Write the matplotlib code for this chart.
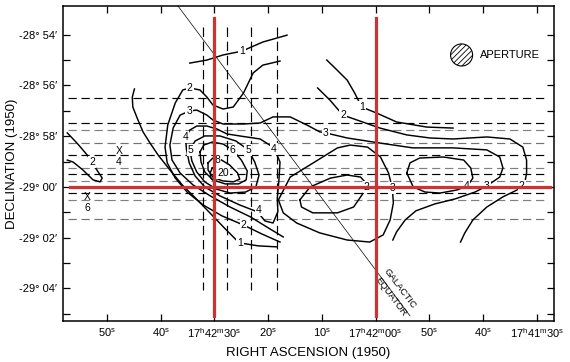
import matplotlib
matplotlib.use("Agg")
import matplotlib.pyplot as plt
from matplotlib.patches import Ellipse

# x: RA seconds after 17h41m00s (1950), y: Dec arcmin north of -29d00m (1950)

# contour level 1
c1_top_ra = [94.6, 91.4, 88.4, 84.9, 81.0, 76.5]
c1_top_dec = [4.88, 5.00, 5.20, 5.35, 5.71, 5.98]
c1_east_ra = [69.1, 67.2, 65.3, 63.9, 62.6, 59.8, 56.1, 50.5, 45.6]
c1_east_dec = [5.00, 4.61, 4.21, 3.70, 3.15, 2.91, 2.56, 2.36, 2.32]
c1_sw_ra = [104.9, 105.3, 105.2, 104.4, 103.3, 102.0, 100.5, 98.3, 96.0, 93.2,
            90.5, 88.0, 85.4, 81.9, 78.4]
c1_sw_dec = [3.86, 3.54, 3.15, 2.72, 2.17, 1.73, 1.26, 0.67, 0.08, -0.51,
             -1.10, -1.65, -2.20, -2.32, -2.36]

# contour level 2
c2_core_ra = [77.8, 81.0, 82.8, 84.6, 86.5, 88.4, 90.3, 91.4, 92.7, 94.6, 95.9,
              97.3, 98.7, 99.2, 98.8, 97.3, 95.1, 92.1, 88.6, 84.6, 81.2, 77.8]
c2_core_dec = [4.96, 4.80, 4.49, 3.70, 3.15, 3.07, 3.23, 3.54, 3.82, 3.90, 3.82,
               3.31, 2.44, 1.57, 0.95, 0.35, -0.20, -0.71, -1.14, -1.50, -1.85, -2.17]
c2_east_ra = [70.8, 68.5, 66.1, 63.5, 59.2, 54.2, 49.9, 45.6, 39.3, 35.0, 32.6,
              31.9, 31.9, 32.2, 32.8, 33.7, 36.3, 39.3, 41.9, 43.4, 44.2]
c2_east_dec = [3.90, 3.42, 2.83, 2.64, 2.32, 2.05, 1.93, 1.89, 1.97, 1.89, 1.57,
               1.06, 0.55, 0.20, 0.04, -0.12, -0.39, -0.79, -1.30, -1.81, -2.17]
c2_west_ra = [117.4, 116.5, 115.6, 114.5, 113.7, 112.8, 111.9, 110.9, 111.3,
              112.6, 114.5, 116.3, 117.4]
c2_west_dec = [2.13, 1.93, 1.73, 1.46, 1.26, 0.98, 0.67, 0.35, 0.20,
               0.28, 0.67, 0.98, 1.06]

# contour level 3
c3_ra = [77.2, 80.0, 83.3, 87.1, 90.8, 94.0, 96.4, 97.9, 98.3, 97.7, 96.4, 94.7,
         93.3, 91.4, 90.3, 88.4, 84.6, 81.5, 79.1, 75.9, 72.8, 70.4, 69.3, 65.3,
         59.2, 53.1, 45.6, 39.3, 36.9, 36.3, 36.9, 39.3, 41.5, 45.2, 49.0, 52.5,
         54.5, 56.1, 56.8]
c3_dec = [-1.97, -1.61, -1.18, -0.79, -0.35, 0.08, 0.55, 1.06, 1.65, 2.32, 2.83,
          2.99, 3.03, 2.83, 2.64, 2.48, 2.48, 2.52, 2.76, 2.76, 2.44, 2.17, 2.13,
          1.93, 1.73, 1.54, 1.54, 1.46, 1.18, 0.75, 0.39, 0.04, -0.20, -0.47,
          -0.67, -0.94, -1.30, -1.77, -2.09]

# closed contours round the peak
c4_ra = [95.4, 95.2, 94.7, 93.6, 91.8, 89.0, 85.3, 82.0, 80.6, 79.1, 78.2, 78.3,
         78.0, 77.8, 78.9, 81.5, 85.3, 87.7, 89.5, 91.4, 93.3, 94.6, 95.4]
c4_dec = [1.93, 1.46, 0.95, 0.43, 0.00, -0.35, -0.71, -0.98, -1.34, -1.42, -0.98,
          -0.43, 0.28, 0.98, 1.54, 1.89, 2.01, 2.09, 2.28, 2.40, 2.40, 2.24, 1.93]
c5_ra = [94.6, 93.6, 91.8, 89.0, 86.0, 83.7, 82.5, 81.7, 82.3, 84.2, 87.1, 89.7,
         91.8, 93.3, 94.2, 94.6]
c5_dec = [1.46, 1.81, 2.01, 2.01, 1.81, 1.46, 0.98, 0.47, 0.00, -0.20, -0.24,
          -0.08, 0.20, 0.59, 1.02, 1.46]
c6_ra = [92.7, 92.0, 90.4, 88.4, 86.6, 85.0, 83.9, 84.1, 85.5, 88.0, 90.3, 91.8,
         92.5, 92.7]
c6_dec = [1.38, 1.65, 1.77, 1.69, 1.46, 1.06, 0.63, 0.28, 0.12, 0.12, 0.28, 0.59,
          0.98, 1.38]
c8_ra = [91.2, 90.3, 89.0, 87.2, 85.7, 85.3, 86.5, 88.5, 90.3, 91.2, 91.2]
c8_dec = [0.95, 1.14, 1.10, 0.87, 0.55, 0.31, 0.20, 0.24, 0.39, 0.67, 0.95]
c20_ra = [90.4, 89.9, 89.5, 89.5, 90.1, 90.7, 90.8, 90.4]
c20_dec = [0.75, 0.79, 0.59, 0.35, 0.24, 0.35, 0.55, 0.75]

# secondary maxima east of the peak
mid_in_ra = [74.1, 72.2, 68.4, 65.3, 62.8, 61.5, 62.3, 64.1, 67.1, 71.7, 73.8, 74.1]
mid_in_dec = [-0.51, 0.00, 0.35, 0.47, 0.39, 0.08, -0.24, -0.79, -1.02, -1.02,
              -0.79, -0.51]
mid_out_ra = [78.1, 75.9, 71.6, 67.1, 64.7, 61.5, 59.1, 57.6, 56.9, 56.7, 57.3,
              58.6, 61.1, 65.3, 70.4, 74.7, 77.2, 78.1]
mid_out_dec = [-0.51, 0.39, 0.95, 1.54, 1.65, 1.57, 1.18, 0.55, -0.04, -0.63,
               -1.30, -1.89, -2.17, -2.09, -1.81, -1.42, -1.02, -0.51]
east_in_ra = [54.2, 53.6, 51.8, 47.4, 43.6, 42.3, 41.9, 42.9, 44.9, 48.0, 50.8,
              53.0, 54.2]
east_in_dec = [0.55, 0.95, 1.14, 1.18, 1.06, 0.75, 0.35, 0.04, -0.12, -0.24,
               -0.20, 0.00, 0.55]

# contour labels
label_text = ["1", "1", "1", "2", "2", "2", "2", "2", "2", "3", "3", "3", "3",
              "4", "4", "4", "4", "5", "5", "6", "8", "20"]
label_ra = [84.9, 62.5, 85.3, 94.6, 84.6, 66.0, 32.8, 112.8, 61.7, 94.7, 69.3,
            39.3, 56.9, 95.4, 78.9, 81.8, 43.1, 94.4, 83.7, 86.6, 89.5, 88.4]
label_dec = [5.35, 3.15, -2.20, 3.90, -1.50, 2.83, 0.04, 0.98, 0.00, 2.99, 2.13,
             0.04, -0.04, 1.97, 1.50, -0.91, 0.04, 1.46, 1.46, 1.46, 1.06, 0.55]

# marked positions (X with number)
mark_ra = [107.8, 113.7]
mark_dec = [1.42, -0.39]
mark_num = ["4", "6"]

# scan lines
scan_dec = [3.5, 2.5, 2.25, 1.75, 1.25, 0.75, 0.5, 0.25, -0.25, -0.5, -1.25]
scan_shade = ["k", "k", "0.5", "0.45", "k", "0.5", "k", "0.5", "k", "0.5", "0.45"]
scan_ra_range = [117.3, 28.0]
scan_ra = [92.1, 87.7, 83.2, 78.4]
scan_dec_range = [6.30, -4.05]

# red cross lines
red_ra = [90.0, 60.0]
red_dec_range = [6.65, -5.08]
red_dec = 0.0
red_ra_range = [116.9, 27.5]

# galactic equator
gal_ra = [96.8, 53.6]
gal_dec = [7.13, -5.08]

ra_ticks = [110, 100, 90, 80, 70, 60, 50, 40, 30]
ra_labels = ["50$^{\\rm s}$", "40$^{\\rm s}$",
             "17$^{\\rm h}$42$^{\\rm m}$30$^{\\rm s}$", "20$^{\\rm s}$",
             "10$^{\\rm s}$", "17$^{\\rm h}$42$^{\\rm m}$00$^{\\rm s}$",
             "50$^{\\rm s}$", "40$^{\\rm s}$",
             "17$^{\\rm h}$41$^{\\rm m}$30$^{\\rm s}$"]
dec_ticks = [6, 4, 2, 0, -2, -4]
dec_labels = ["-28° 54′", "-28° 56′", "-28° 58′", "-29° 00′", "-29° 02′", "-29° 04′"]
dec_minor = [5, 3, 1, -1, -3, -5]

plt.rcParams["font.family"] = ["Liberation Sans", "DejaVu Sans"]
plt.rcParams["mathtext.fontset"] = "custom"
plt.rcParams["mathtext.rm"] = "Liberation Sans"
plt.rcParams["hatch.linewidth"] = 0.6

fig = plt.figure(figsize=(5.7, 3.62), dpi=100)
ax = fig.add_axes([0.1105, 0.1133, 0.8614, 0.8702])

# dashed scan lines
for d, c in zip(scan_dec, scan_shade):
    ax.plot(scan_ra_range, [d, d], color=c, lw=0.85, ls=(0, (7, 4)), zorder=1)
for r in scan_ra:
    ax.plot([r, r], scan_dec_range, color="k", lw=0.85, ls=(0, (8, 4)), zorder=1)

# galactic equator
ax.plot(gal_ra, gal_dec, color="k", lw=0.5, zorder=1)
ax.text(55.5, -4.02, "GALACTIC", rotation=-53, rotation_mode="anchor",
        ha="center", va="center", fontsize=6.8)
ax.text(57.2, -4.33, "EQUATOR", rotation=-53, rotation_mode="anchor",
        ha="center", va="center", fontsize=6.8)

contours = [
    (c1_top_ra, c1_top_dec), (c1_east_ra, c1_east_dec), (c1_sw_ra, c1_sw_dec),
    (c2_core_ra, c2_core_dec), (c2_east_ra, c2_east_dec), (c2_west_ra, c2_west_dec),
    (c3_ra, c3_dec), (c4_ra, c4_dec), (c5_ra, c5_dec), (c6_ra, c6_dec),
    (c8_ra, c8_dec), (c20_ra, c20_dec), (mid_in_ra, mid_in_dec),
    (mid_out_ra, mid_out_dec), (east_in_ra, east_in_dec),
]
for ra, dec in contours:
    ax.plot(ra, dec, color="k", lw=1.05, solid_joinstyle="round", zorder=2)

for t, r, d in zip(label_text, label_ra, label_dec):
    ax.text(r, d, t, ha="center", va="center", fontsize=7.5, zorder=3,
            bbox=dict(boxstyle="square,pad=0.1", fc="white", ec="none"))

for r, d, n in zip(mark_ra, mark_dec, mark_num):
    ax.text(r, d, "X", ha="center", va="center", fontsize=7.5, zorder=3)
    ax.text(r, d - 0.42, n, ha="center", va="center", fontsize=7.5, zorder=3)

# aperture
ax.add_patch(Ellipse((44.0, 5.20), 4.1, 0.87, fill=False, hatch="//////",
                     lw=0.8, zorder=2))
ax.text(40.6, 5.20, "APERTURE", ha="left", va="center", fontsize=8)

# red reference lines
for r in red_ra:
    ax.plot([r, r], red_dec_range, color="#cc3333", lw=2.3, zorder=4)
ax.plot(red_ra_range, [red_dec, red_dec], color="#cc3333", lw=2.3, zorder=4)

ax.set_xlim(118.2, 26.8)
ax.set_ylim(-5.28, 7.13)
ax.set_xticks(ra_ticks)
ax.set_xticklabels(ra_labels, fontsize=8)
ax.set_yticks(dec_ticks)
ax.set_yticklabels(dec_labels, fontsize=8)
ax.set_yticks(dec_minor, minor=True)
ax.tick_params(which="both", direction="in", top=True, right=True,
               length=5, width=0.9, pad=4)
for s in ax.spines.values():
    s.set_linewidth(1.1)

ax.set_xlabel("RIGHT ASCENSION (1950)", fontsize=9.5, labelpad=5)
ax.set_ylabel("DECLINATION (1950)", fontsize=9.5, labelpad=0.5)

fig.savefig("out.png", dpi=100)
